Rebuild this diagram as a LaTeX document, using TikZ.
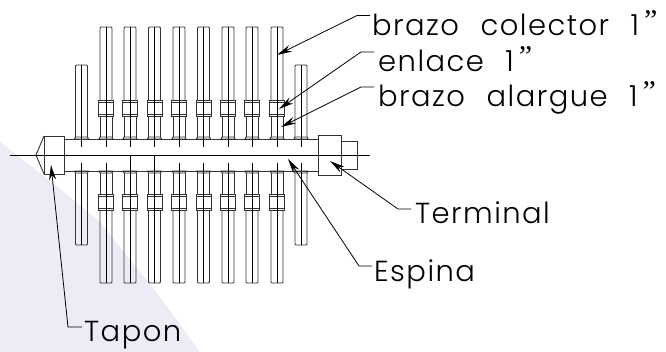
\documentclass[tikz,border=0pt]{standalone}
\usepackage{fontspec}
\setmainfont{Poppins Light}[LetterSpace=5,WordSpace=2.3]
\newfontfamily\quotefont{Liberation Serif}
\usetikzlibrary{arrows.meta}
\definecolor{backdrop}{HTML}{ECECF6}
\tikzset{
  part/.style={draw=black!80,line width=0.9pt},
  axisline/.style={draw=black,line width=0.8pt},
  leader/.style={draw=black,line width=0.8pt,-{Stealth[length=15pt,width=7pt]}},
  tag/.style={anchor=north west,inner sep=0pt,text height=21pt,text depth=7pt,font=\fontsize{29}{29}\selectfont},
  armlong/.pic={
    \draw[part] (-6,-55) -- (-6,-127) -- (-5,-128) -- (5,-128) -- (6,-127) -- (6,-55);
    \draw[part] (-6,-39) -- (-6,-18) (6,-39) -- (6,-18);
    \draw[part] (-7.5,-55) rectangle (7.5,-39);
    \draw[part] (-7.5,-53) -- (7.5,-53) (-7.5,-41) -- (7.5,-41);
    \draw[part] (-6,-18) -- (-7,-16) -- (7,-16) -- (6,-18) -- cycle;
    \draw[axisline] (0,-128) -- (0,-8);
  },
  armshort/.pic={
    \draw[part] (-6,-18) -- (-6,-89) -- (-5,-90) -- (5,-90) -- (6,-89) -- (6,-18);
    \draw[part] (-6,-18) -- (-7,-16) -- (7,-16) -- (6,-18) -- cycle;
    \draw[axisline] (0,-90) -- (0,-8);
  }
}
\newcommand{\inch}{1\kern5pt{\quotefont\raisebox{5pt}{\fontsize{30}{30}\selectfont ”}}}
\begin{document}
\begin{tikzpicture}[x=1pt,y=-1pt]
      \useasboundingbox (0,0) rectangle (666,352);
      % backdrop
      \fill[fill=backdrop] (0,142) -- (53,183) -- (100,222) -- (157,293) -- (200,352) -- (0,352) -- cycle;
      % arms above
      \pic at (81.5,155) {armshort};
      \pic at (106,155) {armlong};
      \pic at (130,155) {armlong};
      \pic at (154.5,155) {armlong};
      \pic at (179,155) {armlong};
      \pic at (203.5,155) {armlong};
      \pic at (228,155) {armlong};
      \pic at (252,155) {armlong};
      \pic at (277,155) {armlong};
      \pic at (301,155) {armshort};
      % arms below
      \pic[yscale=-1] at (81.5,155) {armshort};
      \pic[yscale=-1] at (106,155) {armlong};
      \pic[yscale=-1] at (130,155) {armlong};
      \pic[yscale=-1] at (154.5,155) {armlong};
      \pic[yscale=-1] at (179,155) {armlong};
      \pic[yscale=-1] at (203.5,155) {armlong};
      \pic[yscale=-1] at (228,155) {armlong};
      \pic[yscale=-1] at (252,155) {armlong};
      \pic[yscale=-1] at (277,155) {armlong};
      \pic[yscale=-1] at (301,155) {armshort};
      % spine, plug, terminal
      \draw[part] (64,139) -- (318,139);
      \draw[part] (64,171) -- (318,171);
      \draw[axisline] (130,155) -- (130,163);
      \draw[axisline] (154.5,155) -- (154.5,163);
      \draw[part] (44,136) rectangle (64,174);
      \draw[part] (44,136) -- (36,155) -- (44,174);
      \draw[part] (318,135) rectangle (341,175);
      \draw[part] (341,141) rectangle (357,169);
      \draw[axisline] (10,155) -- (370,155);
      % labels
      \node[tag] (colector) at (372,14) {brazo colector \inch};
      \node[tag] (enlace) at (378,50) {enlace \inch};
      \node[tag] (alargue) at (378,85) {brazo alargue \inch};
      \node[tag] (terminal) at (415,202) {Terminal};
      \node[tag] (espina) at (374,260) {Espina};
      \node[tag] (tapon) at (84,320) {Tapon};
      % leader ends
      \coordinate (tipcolector) at (277,55);
      \coordinate (tipenlace) at (279,109);
      \coordinate (tipalargue) at (281,127);
      \coordinate (tipterminal) at (330,161);
      \coordinate (tipespina) at (288,159);
      \coordinate (tiptapon) at (51,165);
      \draw[leader] ([xshift=-2pt,yshift=-1.5pt]colector.north west) -- ++(-13,0) -- (tipcolector);
      \draw[leader] ([xshift=-4pt,yshift=-2pt]enlace.north west) -- ++(-13,0) -- (tipenlace);
      \draw[leader] ([xshift=-4pt,yshift=-2pt]alargue.north west) -- ++(-13,0) -- (tipalargue);
      \draw[leader] ([xshift=-4pt,yshift=-7pt]terminal.north west) -- ++(-13,0) -- (tipterminal);
      \draw[leader] ([xshift=-2pt,yshift=-6pt]espina.north west) -- ++(-13,0) -- (tipespina);
      \draw[leader] ([xshift=-2pt,yshift=-7pt]tapon.north west) -- ++(-14,0) -- (tiptapon);
    \end{tikzpicture}
\end{document}
